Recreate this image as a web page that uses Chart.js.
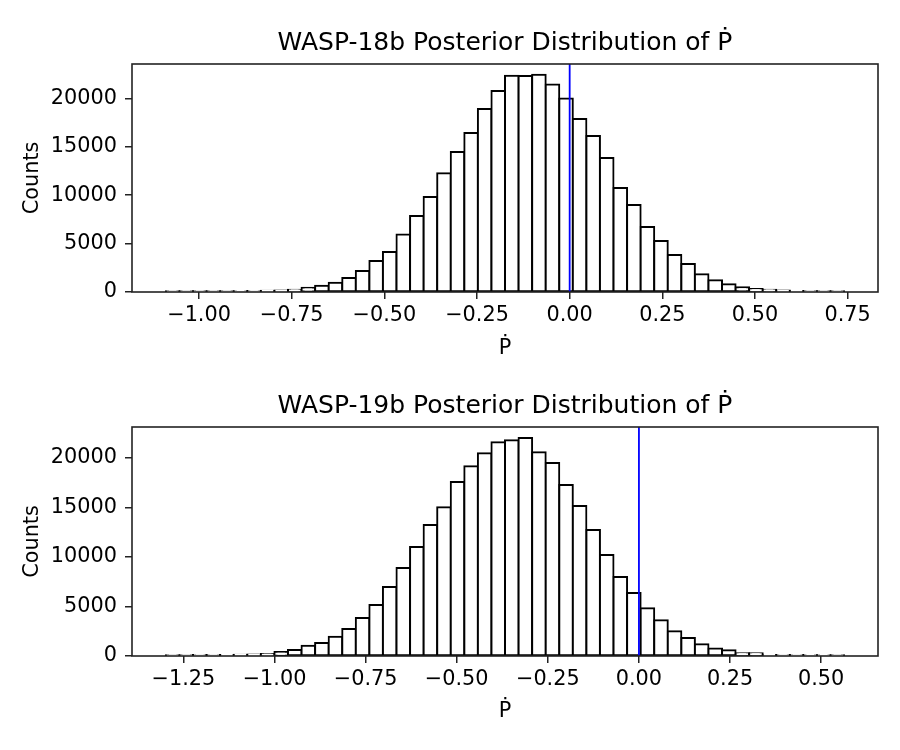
<!DOCTYPE html>
<html>
<head>
  <script src="https://cdn.jsdelivr.net/npm/chart.js@4/dist/chart.umd.min.js"></script>
  <style>
    body { margin: 0; background: #fff; }
    .panel { position: absolute; left: 0; width: 900px; height: 375px; }
  </style>
</head>
<body>
  <div class="panel" style="top: 0px;"><canvas id="chart18"></canvas></div>
  <div class="panel" style="top: 375px;"><canvas id="chart19"></canvas></div>
  <script>
    // WASP-18b histogram: 50 bins starting at binStart18, width binWidth18
    const binStart18 = -1.0895;
    const binWidth18 = 0.0366;
    const counts18 = [
      5, 10, 15, 25, 40, 60, 100, 120, 150, 230,
      430, 650, 950, 1450, 2170, 3200, 4140, 5930, 7860, 9830,
      12270, 14480, 16440, 18920, 20780, 22340, 22320, 22440, 21450, 20000,
      17890, 16130, 13860, 10760, 9000, 6720, 5270, 3830, 2900, 1840,
      1210, 800, 490, 300, 230, 150, 110, 40, 25, 10
    ];
    const xTicks18 = [-1.0, -0.75, -0.5, -0.25, 0.0, 0.25, 0.5, 0.75];

    // WASP-19b histogram
    const binStart19 = -1.298;
    const binWidth19 = 0.03722;
    const counts19 = [
      20, 40, 90, 100, 110, 120, 150, 200, 400, 600,
      1030, 1310, 1940, 2720, 3840, 5150, 6970, 8890, 11010, 13230,
      15020, 17570, 19160, 20470, 21580, 21790, 22020, 20570, 19490, 17270,
      15150, 12730, 10200, 7980, 6360, 4820, 3610, 2490, 1810, 1180,
      750, 580, 270, 270, 110, 100, 90, 80, 60, 30
    ];
    const xTicks19 = [-1.25, -1.0, -0.75, -0.5, -0.25, 0.0, 0.25, 0.5];

    const yTicks = [0, 5000, 10000, 15000, 20000];
    const refLine = 0.0;

    const FONT = "'DejaVu Sans', sans-serif";
    const AXIS = '#222';

    function fmtX(v) {
      const s = Math.abs(v).toFixed(2);
      return v < -1e-9 ? '\u2212' + s : s;
    }

    // outline box + blue reference line
    const boxPlugin = {
      id: 'boxPlugin',
      afterDatasetsDraw(chart) {
        const ctx = chart.ctx;
        const a = chart.chartArea;
        const xs = chart.scales.x;
        const px = xs.getPixelForValue(refLine);
        ctx.save();
        ctx.strokeStyle = '#0000ff';
        ctx.lineWidth = 1.8;
        ctx.beginPath();
        ctx.moveTo(px, a.top);
        ctx.lineTo(px, a.bottom);
        ctx.stroke();
        ctx.strokeStyle = AXIS;
        ctx.lineWidth = 1.6;
        ctx.strokeRect(a.left, a.top, a.right - a.left, a.bottom - a.top);
        ctx.restore();
      }
    };

    function makeHist(id, title, start, width, counts, xTicks, xMin, xMax, yMax, titlePad, xAxisH, xTitlePad) {
      const points = counts.map((c, i) => ({ x: start + (i + 0.5) * width, y: c }));
      return new Chart(document.getElementById(id), {
        type: 'bar',
        data: {
          datasets: [{
            data: points,
            backgroundColor: '#ffffff',
            borderColor: '#000000',
            borderWidth: 2,
            borderSkipped: false,
            inflateAmount: 1,
            barPercentage: 1.0,
            categoryPercentage: 1.0
          }]
        },
        options: {
          responsive: true,
          maintainAspectRatio: false,
          animation: false,
          devicePixelRatio: 1,
          layout: { padding: { left: 0, right: 22, top: 0, bottom: 0 } },
          plugins: {
            legend: { display: false },
            tooltip: { enabled: false },
            title: {
              display: true,
              text: title,
              fullSize: false,
              color: '#000',
              font: { family: FONT, size: 25, weight: 'normal' },
              padding: titlePad
            }
          },
          scales: {
            x: {
              type: 'linear',
              min: xMin,
              max: xMax,
              offset: false,
              afterBuildTicks: (s) => { s.ticks = xTicks.map(v => ({ value: v })); },
              afterFit: (s) => { s.height = xAxisH; },
              ticks: {
                color: '#000',
                font: { family: FONT, size: 20.8 },
                padding: 4,
                maxRotation: 0,
                autoSkip: false,
                callback: (v) => fmtX(v)
              },
              grid: { drawOnChartArea: false, drawTicks: true, tickLength: 7, color: AXIS, lineWidth: 1.5, offset: false },
              border: { display: false },
              title: {
                display: true,
                text: '\u1E56',
                color: '#000',
                font: { family: FONT, size: 20.8 },
                padding: { top: 0, bottom: xTitlePad }
              }
            },
            y: {
              min: 0,
              max: yMax,
              afterBuildTicks: (s) => { s.ticks = yTicks.map(v => ({ value: v })); },
              afterFit: (s) => { s.width = 132; },
              ticks: {
                color: '#000',
                font: { family: FONT, size: 20.8 },
                padding: 8,
                callback: (v) => String(v)
              },
              grid: { drawOnChartArea: false, drawTicks: true, tickLength: 7, color: AXIS, lineWidth: 1.5 },
              border: { display: false },
              title: {
                display: true,
                text: 'Counts',
                color: '#000',
                font: { family: FONT, size: 20.8 },
                padding: { top: 20, bottom: 0 }
              }
            }
          }
        },
        plugins: [boxPlugin]
      });
    }

    makeHist('chart18', 'WASP-18b Posterior Distribution of \u1E56',
      binStart18, binWidth18, counts18, xTicks18, -1.181, 0.832, 23562,
      { top: 28, bottom: 6 }, 83, 13.5);
    makeHist('chart19', 'WASP-19b Posterior Distribution of \u1E56',
      binStart19, binWidth19, counts19, xTicks19, -1.391, 0.656, 23121,
      { top: 16, bottom: 6 }, 94, 25.5);
  </script>
</body>
</html>
